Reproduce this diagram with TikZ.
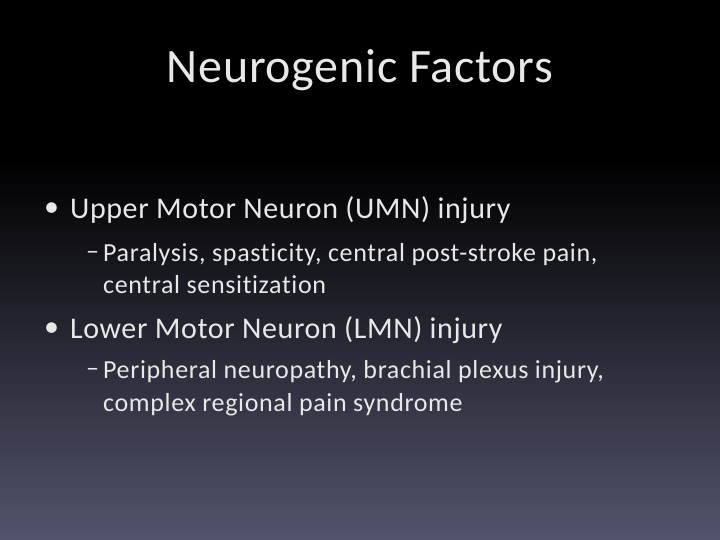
\documentclass[tikz,border=0pt]{standalone}
\usepackage{fontspec}
\setmainfont{Carlito}[Ligatures=NoCommon]
\definecolor{bot}{RGB}{82,84,108}
\definecolor{txt}{RGB}{232,232,232}
\begin{document}
\begin{tikzpicture}[x=1pt,y=1pt,
  title/.style={text=txt,font=\fontsize{48}{52}\selectfont\addfontfeature{LetterSpace=1.5}},
  lvl1/.style={text=txt,anchor=west,font=\fontsize{30}{32}\selectfont\addfontfeature{LetterSpace=2},inner sep=0},
  lvl2/.style={text=txt,anchor=west,font=\fontsize{26}{28}\selectfont\addfontfeature{LetterSpace=2.5},inner sep=0}]
\useasboundingbox (0,0) rectangle (720,540);
\fill[black] (0,380) rectangle (720,540);
\shade[top color=black,bottom color=bot] (0,0) rectangle (720,381);
\node[title] (t) at (360,470) {Neurogenic Factors};
\node[lvl1] (b1) at (44,330) {•};
\node[lvl1] (u) at (70,330) {Upper Motor Neuron (UMN) injury};
\node[lvl2] (d1) at (86,285) {–};
\node[lvl2] (s1a) at (103,285) {Paralysis, spasticity, central post-stroke pain,};
\node[lvl2] (s1b) at (103,255) {central sensitization};
\node[lvl1] (b2) at (44,210) {•};
\node[lvl1] (l) at (70,210) {Lower Motor Neuron (LMN) injury};
\node[lvl2] (d2) at (86,168) {–};
\node[lvl2] (s2a) at (103,168) {Peripheral neuropathy, brachial plexus injury,};
\node[lvl2] (s2b) at (103,135) {complex regional pain syndrome};
\end{tikzpicture}
\end{document}
